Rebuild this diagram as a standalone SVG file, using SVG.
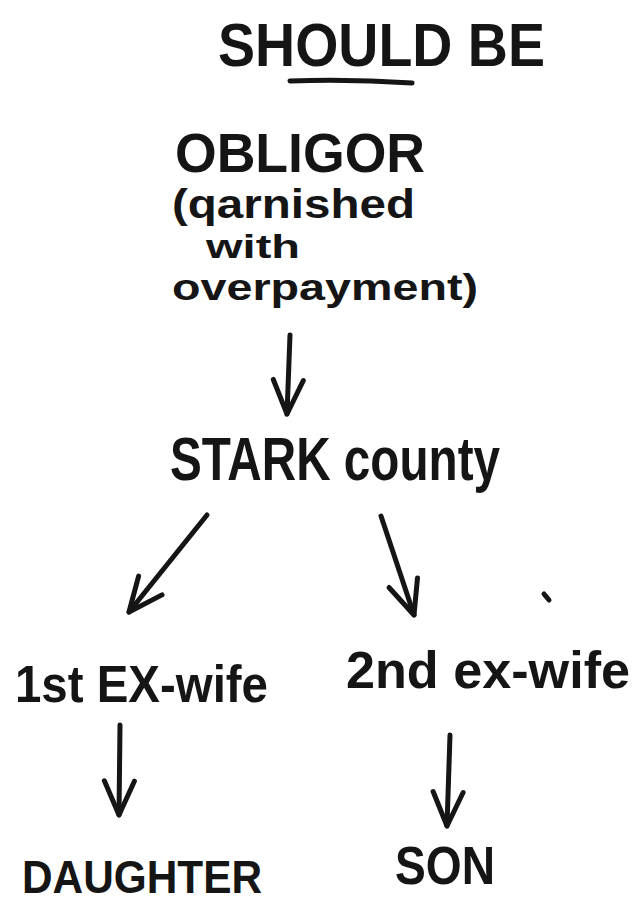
<svg xmlns="http://www.w3.org/2000/svg" width="634" height="903" viewBox="0 0 634 903">
<style>
.t{font-family:"Liberation Sans","DejaVu Sans",sans-serif;font-weight:bold;fill:#151515}
.c path,.c line{fill:none;stroke:#151515;stroke-width:5;stroke-linecap:round;stroke-linejoin:round}
</style>
<defs>
<marker id="ah" viewBox="-40 -20 46 40" refX="0" refY="0" markerWidth="46" markerHeight="40" markerUnits="userSpaceOnUse" orient="auto">
<path d="M-34,-15 L0,0 L-34,15" fill="none" stroke="#151515" stroke-width="5" stroke-linecap="round" stroke-linejoin="round"/>
</marker>
</defs>
<rect width="634" height="903" fill="#ffffff"/>
<g id="title">
<text class="t" x="218" y="66" font-size="62" textLength="327" lengthAdjust="spacingAndGlyphs">SHOULD BE</text>
<path d="M290,81 Q350,79 412,83" fill="none" stroke="#151515" stroke-width="5" stroke-linecap="round"/>
</g>
<g id="obligor">
<text class="t" x="175" y="172" font-size="56" textLength="250" lengthAdjust="spacingAndGlyphs">OBLIGOR</text>
<text class="t" x="172" y="218" font-size="40" textLength="243" lengthAdjust="spacingAndGlyphs">(qarnished</text>
<text class="t" x="206" y="258" font-size="34" textLength="94" lengthAdjust="spacingAndGlyphs">with</text>
<text class="t" x="172" y="300" font-size="36" textLength="306" lengthAdjust="spacingAndGlyphs">overpayment)</text>
</g>
<g id="stark">
<text class="t" x="170" y="480" font-size="62" textLength="330" lengthAdjust="spacingAndGlyphs">STARK county</text>
</g>
<g id="wife1">
<text class="t" x="15" y="702" font-size="52" textLength="253" lengthAdjust="spacingAndGlyphs">1st EX-wife</text>
</g>
<g id="wife2">
<text class="t" x="346" y="688" font-size="52" textLength="284" lengthAdjust="spacingAndGlyphs">2nd ex-wife</text>
</g>
<g id="daughter">
<text class="t" x="22" y="893" font-size="46" textLength="240" lengthAdjust="spacingAndGlyphs">DAUGHTER</text>
</g>
<g id="son">
<text class="t" x="395" y="884" font-size="54" textLength="100" lengthAdjust="spacingAndGlyphs">SON</text>
</g>
<g class="c" id="connectors">
<path d="M290,335 L287,414" marker-end="url(#ah)"/>
<path d="M207,515 L129,612" marker-end="url(#ah)"/>
<path d="M381,516 L414,615" marker-end="url(#ah)"/>
<path d="M120,725 L119,815" marker-end="url(#ah)"/>
<path d="M450,735 L447,826" marker-end="url(#ah)"/>
<path d="M544,594 L549,600"/>
</g>
</svg>
